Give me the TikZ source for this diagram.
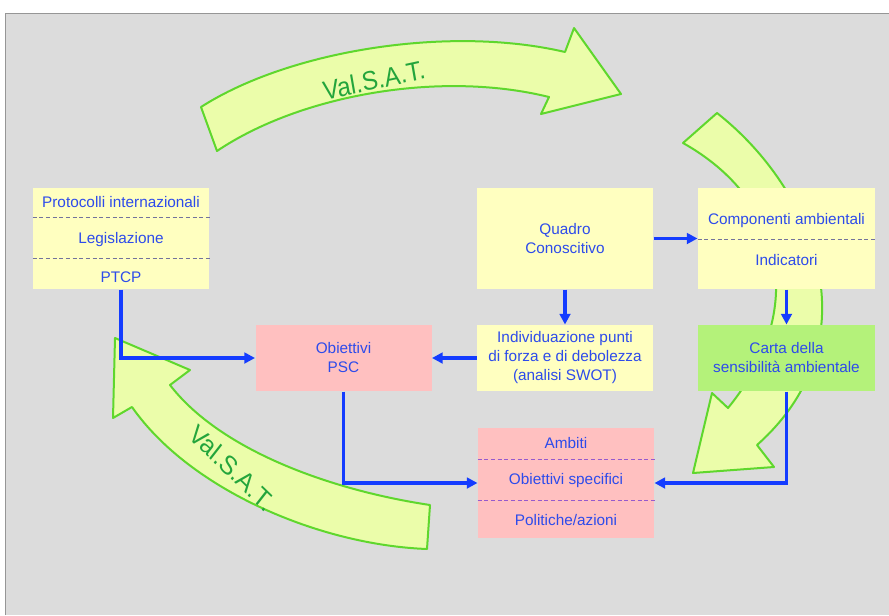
\documentclass[tikz,border=0pt]{standalone}
\usepackage{fontspec}
\setmainfont{Liberation Sans}
\usetikzlibrary{arrows.meta,calc}

\definecolor{bgGray}{RGB}{220,220,220}
\definecolor{frameGray}{RGB}{150,150,150}
\definecolor{boxYellow}{RGB}{255,255,192}
\definecolor{boxPink}{RGB}{255,192,192}
\definecolor{boxGreen}{RGB}{180,242,122}
\definecolor{txtBlue}{RGB}{45,75,235}
\definecolor{lineBlue}{RGB}{20,60,255}
\definecolor{arrFill}{RGB}{235,253,170}
\definecolor{arrLine}{RGB}{95,215,45}
\definecolor{arrText}{RGB}{35,165,60}
\definecolor{dashGray}{RGB}{115,115,155}
\definecolor{dashPurple}{RGB}{150,90,205}

\tikzset{every picture/.style={line width=0.75pt}}
\tikzset{
  boxbase/.style={inner sep=0pt, minimum width=132pt, text=txtBlue, align=center,
    font=\fontsize{11.5}{14.25}\selectfont},
  tallbox/.style={boxbase, minimum height=75.75pt},
  flatbox/.style={boxbase, minimum height=49.5pt},
  ybox/.style={fill=boxYellow},
  pbox/.style={fill=boxPink},
  gbox/.style={fill=boxGreen},
  secttext/.style={inner sep=0pt, text=txtBlue, font=\fontsize{11.5}{14.25}\selectfont},
  sepline/.style={draw=dashGray, dash pattern=on 3pt off 2pt},
  seplinep/.style={draw=dashPurple, dash pattern=on 3pt off 2pt},
  link/.style={draw=lineBlue, line width=2.6pt, -{Triangle[length=8pt,width=8pt]}},
  bigarrow/.style={fill=arrFill, draw=arrLine, line width=1.5pt, line join=round},
  vallabel/.style={inner sep=0pt, text=arrText, font=\fontsize{20}{22}\selectfont, xscale=0.9}
}

\begin{document}
\begin{tikzpicture}[x=0.75pt,y=0.75pt,yscale=-1,xscale=1]
\useasboundingbox (0,0) rectangle (889,615);
\fill[white] (0,0) rectangle (889,615);
%Background panel
\fill[bgGray] (5,13) rectangle (889,615);
\draw[frameGray] (5,615) -- (5,13) -- (889,13);

%Curved arrow top
\draw[bigarrow] (201,107) .. controls (290,50) and (450,25) .. (565,52) -- (574,28) -- (621,94) -- (541,114) -- (549,97) .. controls (440,70) and (300,95) .. (217,151) -- cycle;
%Curved arrow right
\draw[bigarrow] (683,143) -- (717,113) .. controls (815,190) and (875,340) .. (757,445) -- (774,467) -- (693,473) -- (712,393) -- (728,408) .. controls (808,310) and (785,200) .. (683,143) -- cycle;
%Curved arrow bottom left
\draw[bigarrow] (430,505) .. controls (330,490) and (220,450) .. (170,385) -- (190,370) -- (115,338) -- (113,418) -- (132,407) .. controls (190,490) and (320,545) .. (427,549) -- cycle;

% Text Node
\node[vallabel, rotate=11] (valtop) at (374,80) {Val.S.A.T.};
% Text Node
\node[vallabel, rotate=-41] (valbot) at (232,468) {Val.S.A.T.};

%Boxes
\node[tallbox, ybox] (prot) at (121,238.5) {};
\node[tallbox, ybox] (quadro) at (565,238.5) {Quadro\\Conoscitivo};
\node[tallbox, ybox, minimum width=132.75pt] (comp) at (786.5,238.5) {};
\node[flatbox, ybox] (indiv) at (565,358) {Individuazione punti\\di forza e di debolezza\\(analisi SWOT)};
\node[flatbox, gbox, minimum width=132.75pt] (carta) at (786.5,358) {Carta della\\sensibilità ambientale};
\node[flatbox, pbox] (psc) at (343.5,358) {Obiettivi\\PSC};
\node[boxbase, pbox, minimum height=82.5pt] (ambiti) at (566,483) {};

%Box sections
\draw[sepline] ($(prot.north west)!0.297!(prot.south west)$) -- ($(prot.north east)!0.297!(prot.south east)$);
\draw[sepline] ($(prot.north west)!0.693!(prot.south west)$) -- ($(prot.north east)!0.693!(prot.south east)$);
\draw[sepline] ($(comp.north west)!0.505!(comp.south west)$) -- ($(comp.north east)!0.505!(comp.south east)$);
\draw[seplinep] ($(ambiti.north west)!0.29!(ambiti.south west)$) -- ($(ambiti.north east)!0.29!(ambiti.south east)$);
\draw[seplinep] ($(ambiti.north west)!0.66!(ambiti.south west)$) -- ($(ambiti.north east)!0.66!(ambiti.south east)$);

% Text Node
\node[secttext] (protA) at (121,202) {Protocolli internazionali};
\node[secttext] (protB) at (121,240) {Legislazione};
\node[secttext] (protC) at (121,277) {PTCP};
\node[secttext] (compA) at (786.5,221) {Componenti ambientali};
\node[secttext] (compB) at (786.5,260) {Indicatori};
\node[secttext] (ambA) at (566,443) {Ambiti};
\node[secttext] (ambB) at (566,481) {Obiettivi specifici};
\node[secttext] (ambC) at (566,520) {Politiche/azioni};

%Connectors
\draw[link] (prot.south) |- (psc.west);
\draw[link] (indiv.west) -- (psc.east);
\draw[link] (quadro.south) -- (indiv.north);
\draw[link] (quadro.east) -- (comp.west);
\draw[link] (comp.south) -- (carta.north);
\draw[link] (psc.south) |- (ambiti.west);
\draw[link] (carta.south) |- (ambiti.east);

\end{tikzpicture}
\end{document}
